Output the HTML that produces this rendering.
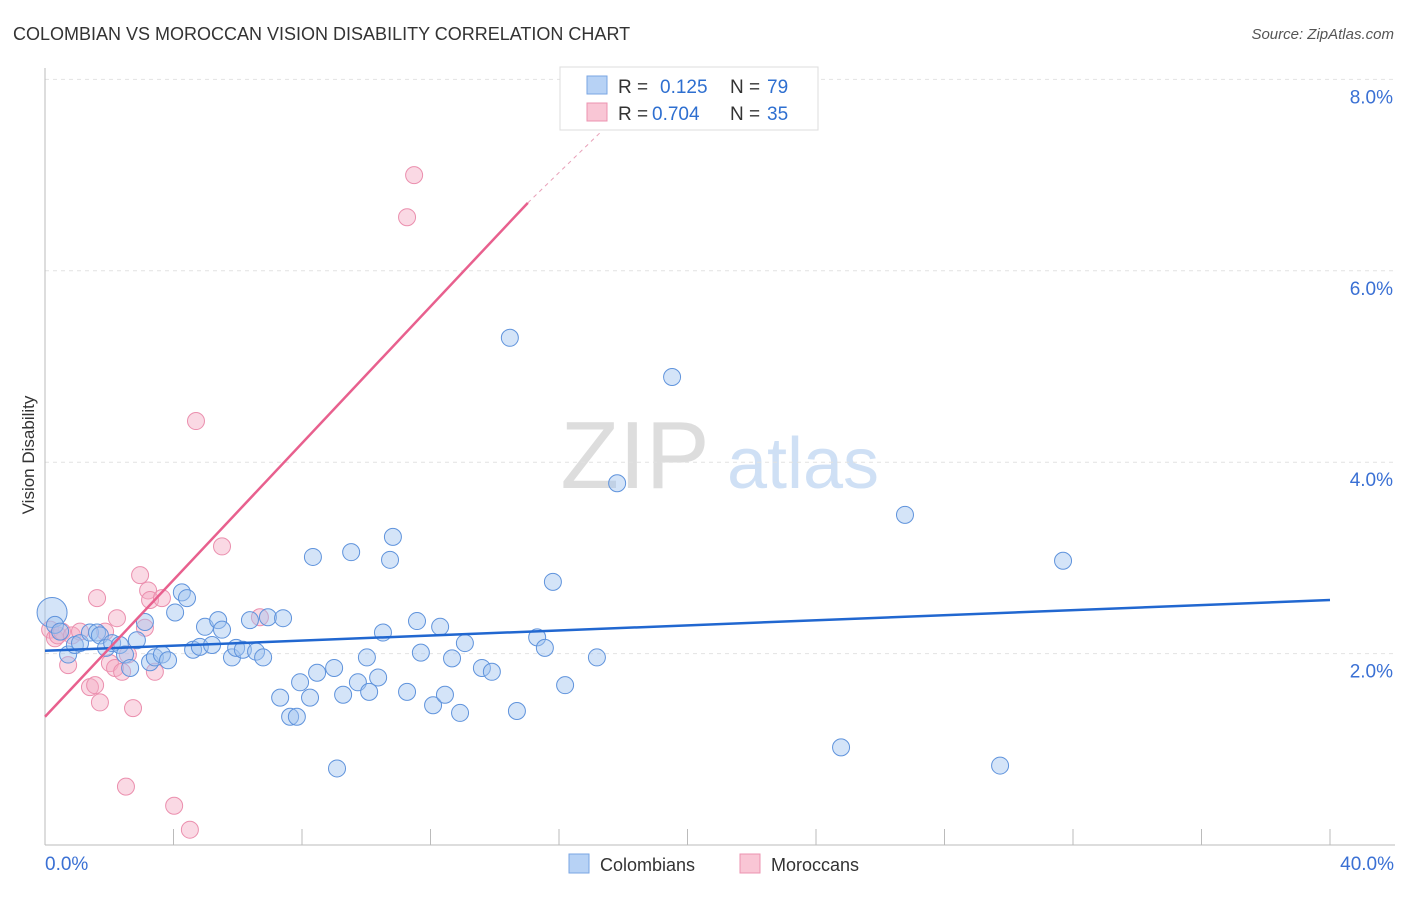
<!DOCTYPE html>
<html><head><meta charset="utf-8">
<style>
body{margin:0;background:#fff;font-family:"Liberation Sans",sans-serif;}
svg text{font-family:"Liberation Sans",sans-serif;}
</style></head>
<body>
<svg id="chart" width="1406" height="892" xmlns="http://www.w3.org/2000/svg">
<text x="13" y="40" font-size="18" fill="#333">COLOMBIAN VS MOROCCAN VISION DISABILITY CORRELATION CHART</text>
<text x="1394" y="39" font-size="15" fill="#555" font-style="italic" text-anchor="end">Source: ZipAtlas.com</text>
<text transform="translate(34,455) rotate(-90)" font-size="17" fill="#333" text-anchor="middle">Vision Disability</text>
<g>
<text x="635" y="488" font-size="96" fill="#ddd" font-family="Liberation Serif, serif" text-anchor="middle">ZIP</text>
<text x="803" y="488" font-size="72" fill="#cfe0f5" text-anchor="middle">atlas</text>
</g>
<g id="grid"></g>
<g id="axes"></g>
<g id="marks"></g>
<g>
<rect x="560" y="67" width="258" height="63" fill="#fff" stroke="#ddd"/>
<rect x="587" y="76" width="20" height="18" fill="#b7d2f5" stroke="#7aa6e3"/>
<text x="618" y="93" font-size="19" fill="#333">R = </text><text x="660" y="93" font-size="19" fill="#2e6fd0">0.125</text>
<text x="730" y="93" font-size="19" fill="#333">N = </text><text x="767" y="93" font-size="19" fill="#2e6fd0">79</text>
<rect x="587" y="103" width="20" height="18" fill="#f9c6d5" stroke="#ec93b0"/>
<text x="618" y="120" font-size="19" fill="#333">R = </text><text x="652" y="120" font-size="19" fill="#2e6fd0">0.704</text>
<text x="730" y="120" font-size="19" fill="#333">N = </text><text x="767" y="120" font-size="19" fill="#2e6fd0">35</text>
</g>
<g>
<rect x="569" y="854" width="20" height="19" fill="#b7d2f5" stroke="#7aa6e3"/>
<text x="600" y="871" font-size="18" fill="#333">Colombians</text>
<rect x="740" y="854" width="20" height="19" fill="#f9c6d5" stroke="#ec93b0"/>
<text x="771" y="871" font-size="18" fill="#333">Moroccans</text>
</g>
</svg>
<script>
const xTickLabels=["0.0%","40.0%"];
const yTicks=[2,4,6,8];
const yTickLabels=["2.0%","4.0%","6.0%","8.0%"];
const blueX=[0.22,0.31,0.47,0.72,0.93,1.09,1.40,1.62,1.71,1.90,2.09,2.33,2.49,2.65,2.86,3.11,3.27,3.42,3.64,3.83,4.05,4.26,4.42,4.61,4.82,4.98,5.20,5.39,5.51,5.82,5.95,6.16,6.38,6.57,6.79,6.94,7.32,7.41,7.63,7.84,7.94,8.25,8.34,8.47,9.00,9.09,9.28,9.53,9.74,10.02,10.09,10.37,10.52,10.74,10.83,11.27,11.58,11.70,12.08,12.30,12.45,12.67,12.92,13.07,13.60,13.91,14.47,14.69,15.32,15.56,15.81,16.19,17.18,17.81,19.52,24.78,26.77,29.73,31.69];
const blueY=[2.43,2.30,2.23,1.99,2.09,2.11,2.22,2.22,2.19,2.06,2.11,2.09,1.99,1.85,2.14,2.33,1.91,1.96,1.99,1.93,2.43,2.64,2.58,2.04,2.07,2.28,2.09,2.35,2.25,1.96,2.06,2.04,2.35,2.02,1.96,2.38,1.54,2.37,1.34,1.34,1.70,1.54,3.01,1.80,1.85,0.80,1.57,3.06,1.70,1.96,1.60,1.75,2.22,2.98,3.22,1.60,2.34,2.01,1.46,2.28,1.57,1.95,1.38,2.11,1.85,1.81,5.30,1.40,2.17,2.06,2.75,1.67,1.96,3.78,4.89,1.02,3.45,0.83,2.97];
const pinkX=[0.16,0.31,0.40,0.53,0.72,0.84,1.09,1.40,1.56,1.62,1.71,1.87,2.02,2.18,2.24,2.40,2.58,2.74,2.52,2.96,3.11,3.21,3.27,3.42,3.64,4.02,4.51,4.70,5.51,6.69,11.27,11.49];
const pinkY=[2.25,2.16,2.19,2.23,1.88,2.19,2.23,1.65,1.67,2.58,1.49,2.23,1.90,1.85,2.37,1.81,1.99,1.43,0.61,2.82,2.27,2.66,2.56,1.81,2.58,0.41,0.16,4.43,3.12,2.38,6.56,7.00];
const blueLine=[[0,2.03],[40,2.56]];
const pinkLine=[[0,1.34],[15.03,6.71]];
const pinkDash=[[15.03,6.71],[17.3,7.45]];

const NS="http://www.w3.org/2000/svg";
const sx=v=>45+v*1285/40;
const sy=v=>845-v*95.7;
function mk(tag,attrs,parent){const e=document.createElementNS(NS,tag);for(const k in attrs)e.setAttribute(k,attrs[k]);parent.appendChild(e);return e;}
const grid=document.getElementById('grid'),axes=document.getElementById('axes'),marks=document.getElementById('marks');
yTicks.forEach((t,i)=>{
  const l=mk('line',{x1:45,x2:1395,y1:sy(t),y2:sy(t),stroke:'#e2e2e2','stroke-dasharray':'4,4'},grid);
  
  
  const tx=mk('text',{x:1393,y:sy(t)+24,'font-size':19,fill:'#3a70d4','text-anchor':'end'},axes);
  tx.textContent=yTickLabels[i];
  
  
});
const ya=mk('line',{x1:45,x2:45,y1:68,y2:845,stroke:'#bbb'},axes);


const xa=mk('line',{x1:45,x2:1395,y1:845,y2:845,stroke:'#bbb'},axes);


for(let v=4;v<=40;v+=4){
  const t=mk('line',{x1:sx(v),x2:sx(v),y1:829,y2:845,stroke:'#bbb'},axes);
  
  
}
[[0,'start',45],[40,'end',1394]].forEach((d,i)=>{
  const tx=mk('text',{x:d[2],y:870,'font-size':19,fill:'#3a70d4','text-anchor':d[1]},axes);
  tx.textContent=xTickLabels[i];
  
  
});
pinkX.forEach((x,i)=>{
  const c=mk('circle',{cx:sx(x),cy:sy(pinkY[i]),r:8.5,fill:'rgba(244,170,195,0.45)',stroke:'#eb8fae','stroke-width':1},marks);
  
  
});
blueX.forEach((x,i)=>{
  const c=mk('circle',{cx:sx(x),cy:sy(blueY[i]),r:i===0?15:8.5,fill:'rgba(160,195,240,0.45)',stroke:'#5f93dc','stroke-width':1},marks);
  
  
});
const bl=mk('line',{x1:sx(blueLine[0][0]),y1:sy(blueLine[0][1]),x2:sx(blueLine[1][0]),y2:sy(blueLine[1][1]),stroke:'#2167d0','stroke-width':2.5},marks);


const pl=mk('line',{x1:sx(pinkLine[0][0]),y1:sy(pinkLine[0][1]),x2:sx(pinkLine[1][0]),y2:sy(pinkLine[1][1]),stroke:'#e8608e','stroke-width':2.5},marks);


const pd=mk('line',{x1:sx(pinkDash[0][0]),y1:sy(pinkDash[0][1]),x2:sx(pinkDash[1][0]),y2:sy(pinkDash[1][1]),stroke:'#e8a0b8','stroke-width':1,'stroke-dasharray':'4,4'},marks);


</script>
</body></html>
